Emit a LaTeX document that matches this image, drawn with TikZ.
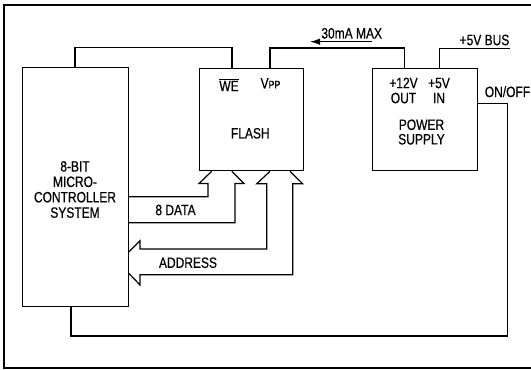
\documentclass[tikz,border=0pt]{standalone}
\usepackage{fontspec}
\setmainfont{Liberation Sans}[FakeStretch=0.8,FakeBold=0.5]
\usetikzlibrary{arrows.meta,calc}
\begin{document}
\begin{tikzpicture}[x=1pt,y=-1pt,
  line join=miter,
  wire/.style={line width=1.2pt},
  box/.style={draw,line width=1.3pt,anchor=north west,inner sep=0pt},
  lbl/.style={inner sep=0pt,font=\fontsize{15}{16}\selectfont,align=center},
  frame/.style={line width=1.6pt}]
\useasboundingbox (0,0) rectangle (531,370);
% outer frame (right side runs off the picture)
\draw[frame] (540,5) -- (4,5) -- (4,368) -- (540,368);

% blocks
\node[box,minimum width=105.5pt,minimum height=238.5pt] (mcu) at (22,67) {};
\node[box,minimum width=104.5pt,minimum height=102.3pt] (flash) at (198.5,67.7) {};
\node[box,minimum width=105pt,minimum height=102.3pt] (ps) at (371.7,67.7) {};

% texts in blocks
\node[lbl] (mcut) at (75,189.5) {8-BIT\\[-0.6pt]MICRO-\\[-0.6pt]CONTROLLER\\[-0.6pt]SYSTEM};
\node[lbl] (we) at (229,85) {$\overline{\hbox{WE}}$};
\node[lbl] (vpp) at (270.5,83.3) {V{\fontsize{11}{11}\selectfont PP}};
\node[lbl] (flt) at (250.3,133.3) {FLASH};
\node[lbl] (out) at (403.5,90.5) {+12V\\[-1pt]OUT};
\node[lbl] (in) at (439,90.5) {+5V\\[-1pt]IN};
\node[lbl] (pst) at (421.5,132) {POWER\\[-1.5pt]SUPPLY};

% outside texts
\node[lbl] (ma) at (351.7,33.3) {30mA MAX};
\node[lbl] (bus) at (484.5,40) {+5V BUS};
\node[lbl] (onoff) at (507.5,91.7) {ON/OFF};
\node[lbl] (data) at (175.5,210) {8 DATA};
\node[lbl] (addr) at (188,262.7) {ADDRESS};

% WE line
\draw[wire] (mcu.north -| 75,0) -- (75,47.5) -- (232,47.5) -- (flash.north -| 232,0);
% Vpp line from +12V OUT
\draw[wire] (flash.north -| 270,0) -- (270,48) -- (404.3,48) -- (ps.north -| 404.3,0);
% current arrow
\coordinate (maR) at (371.7,41.7);
\coordinate (maL) at (310,41.7);
\draw[line width=1.2pt,-{Latex[length=10pt,width=6.5pt]}] (maR) -- (maL);
% +5V bus
\coordinate (busE) at (510,48.3);
\draw[wire] (ps.north -| 439.3,0) -- (439.3,48.3) -- (busE);
% ON/OFF loop
\draw[wire] (ps.east |- 0,103.8) -- (507.7,103.8) -- (507.7,336) -- (71,336) -- (mcu.south -| 71,0);

% 8 DATA hollow bus arrow (to FLASH)
\draw[wire] (mcu.east |- 0,196.7) -- (208,196.7) -- (208,183.5) -- (199,183.5) -- (flash.south -| 211.7,0);
\draw[wire] (flash.south -| 231.7,0) -- (244,183.5) -- (235,183.5) -- (235,222.7) -- (mcu.east |- 0,222.7);

% ADDRESS hollow bus arrow (from FLASH to MCU)
\draw[wire] (flash.south -| 270,0) -- (256.7,183.8) -- (266.7,183.8) -- (266.7,249) -- (140,249) -- (140,240.8) -- (mcu.east |- 0,252);
\draw[wire] (flash.south -| 290,0) -- (302.7,183.8) -- (292.7,183.8) -- (292.7,274.8) -- (140,274.8) -- (140,285) -- (mcu.east |- 0,273.3);
\end{tikzpicture}
\end{document}
